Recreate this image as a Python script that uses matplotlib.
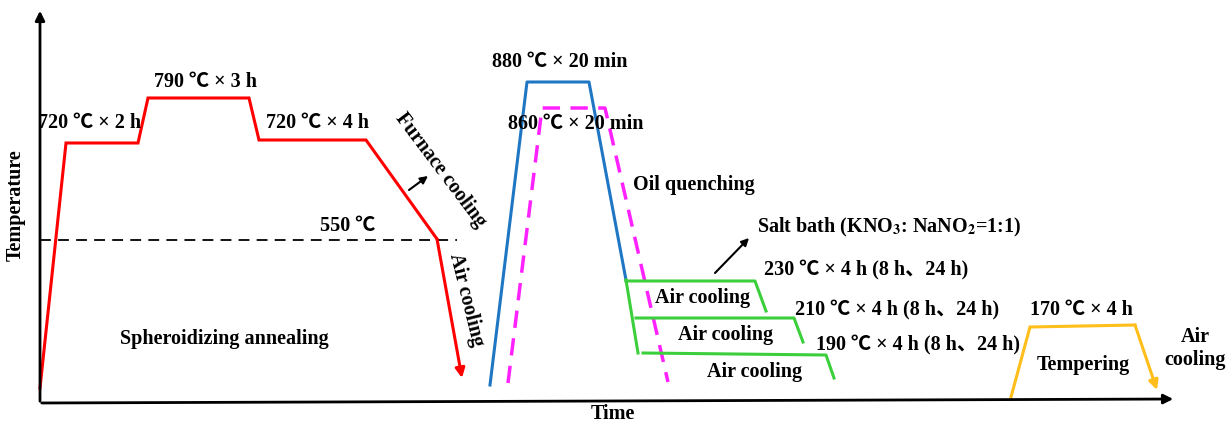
import matplotlib.pyplot as plt

plt.rcParams['mathtext.fontset'] = 'stix'
FONT = ['Liberation Serif', 'Noto Sans CJK SC']

# schematic paths, in image pixel units (x right, y down)
anneal_x = [40, 66, 138, 148, 249, 259, 366, 437, 462]
anneal_y = [388, 143, 143, 98, 98, 140, 140, 239, 378]

quench880_x = [490, 527, 589, 626]
quench880_y = [385, 82, 82, 280]

quench860_x = [508, 542, 605, 668]
quench860_y = [383, 108, 108, 382]

salt_drop_x = [626, 638]
salt_drop_y = [280, 353]
salt230_x = [626, 755, 766]
salt230_y = [281, 281, 311]
salt210_x = [636, 794, 803]
salt210_y = [318, 318, 342]
salt190_x = [643, 826, 834]
salt190_y = [353, 355, 378]

temper_x = [1011, 1030, 1135, 1157]
temper_y = [397, 327, 325, 390]

line550_x = [40, 457]
line550_y = [240, 240]

fig = plt.figure(figsize=(12.31, 4.26), dpi=100)
ax = fig.add_axes([0, 0, 1, 1])
ax.set_xlim(0, 1231)
ax.set_ylim(426, 0)
ax.axis('off')

# axes arrows
ax.annotate('', xy=(40, 8), xytext=(40, 404),
            arrowprops=dict(arrowstyle='-|>', color='black', lw=2, mutation_scale=14))
ax.annotate('', xy=(1176, 399), xytext=(39, 403),
            arrowprops=dict(arrowstyle='-|>', color='black', lw=2, mutation_scale=14))


def path_arrow(xs, ys, color):
    ax.plot(xs[:-1], ys[:-1], color=color, lw=2.2, solid_joinstyle='miter')
    ax.annotate('', xy=(xs[-1], ys[-1]), xytext=(xs[-2], ys[-2]),
                arrowprops=dict(arrowstyle='-|>', color=color, lw=2.2,
                                mutation_scale=14, shrinkA=0, shrinkB=0))


path_arrow(anneal_x, anneal_y, '#FF0000')
ax.plot(line550_x, line550_y, color='black', lw=1.3, dashes=(6, 4))

ax.plot(quench880_x, quench880_y, color='#1F77C4', lw=2.2)
ax.plot(quench860_x, quench860_y, color='#FF22FF', lw=2.5, dashes=(5, 3))

green = '#3CCF3C'
for xs, ys in [(salt_drop_x, salt_drop_y), (salt230_x, salt230_y),
               (salt210_x, salt210_y), (salt190_x, salt190_y)]:
    ax.plot(xs, ys, color=green, lw=2.2)

path_arrow(temper_x, temper_y, '#FFBE1A')

# small arrows
for p0, p1 in [((409, 190), (428, 176)), ((715, 273), (749, 238))]:
    ax.annotate('', xy=p1, xytext=p0,
                arrowprops=dict(arrowstyle='-|>', color='black', lw=1.5,
                                mutation_scale=11, shrinkA=0, shrinkB=0))


def label(x, y, s, ha='center', rot=0, size=14.5):
    ax.text(x, y, s, ha=ha, va='center', rotation=rot, family=FONT,
            weight='bold', fontsize=size, rotation_mode='anchor')


label(90, 123, '720 ℃ × 2 h')
label(205, 82, '790 ℃ × 3 h')
label(318, 123, '720 ℃ × 4 h')
label(348, 226, '550 ℃')
label(441, 170, 'Furnace cooling', rot=-53)
label(466, 300, 'Air cooling', rot=-76)
label(224, 339, 'Spheroidizing annealing')
label(16, 205, 'Temperature', rot=90)
label(613, 414, 'Time')

label(560, 62, '880 ℃ × 20 min')
label(576, 124, '860 ℃ × 20 min')
label(694, 185, 'Oil quenching')
label(757, 227, r'Salt bath (KNO$_\mathbf{3}$: NaNO$_\mathbf{2}$=1:1)', ha='left')
label(764, 270, '230 ℃ × 4 h (8 h、24 h)', ha='left')
label(795, 310, '210 ℃ × 4 h (8 h、24 h)', ha='left')
label(816, 345, '190 ℃ × 4 h (8 h、24 h)', ha='left')
label(703, 298, 'Air cooling')
label(726, 335, 'Air cooling')
label(755, 372, 'Air cooling')

label(1081, 310, '170 ℃ × 4 h')
label(1083, 365, 'Tempering')
label(1195, 348, 'Air\ncooling')

fig.savefig('out.png', dpi=100)
